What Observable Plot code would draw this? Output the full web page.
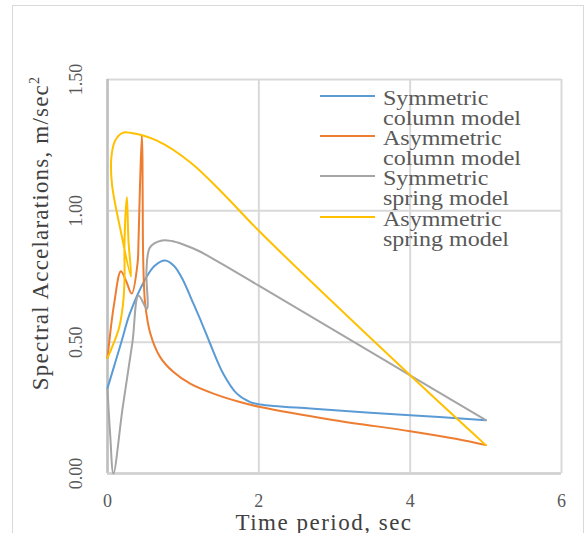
<!DOCTYPE html>
<html>
<head>
<meta charset="utf-8">
<script src="https://cdn.jsdelivr.net/npm/d3@7"></script>
<script src="https://cdn.jsdelivr.net/npm/@observablehq/plot@0.6"></script>
<style>
  body { margin: 0; background: white; }
  #wrap { position: relative; width: 586px; height: 533px; overflow: hidden; font-family: "Liberation Serif", serif; }
  #border { position: absolute; left: 12px; top: 5px; width: 572px; height: 560px; border: 1.5px solid #d9d9d9; box-sizing: border-box; pointer-events: none; }
  .lg-line { position: absolute; height: 2px; width: 55px; left: 320px; }
  .lg-text { position: absolute; left: 383px; font-size: 20px; line-height: 20px; color: #595959; transform: scaleX(1.2); transform-origin: left center; white-space: nowrap; }
  #ytitle { position: absolute; left: 40px; top: 233px; transform: translate(-50%, -50%) rotate(-90deg); font-size: 23px; letter-spacing: 1.2px; color: #404040; white-space: nowrap; line-height: 1; }
  #ytitle sup { font-size: 14px; vertical-align: 9px; line-height: 0; }
  #xtitle { position: absolute; left: 324px; top: 522px; transform: translate(-50%, -50%); font-size: 23px; letter-spacing: 1.5px; color: #404040; white-space: nowrap; line-height: 1; }
</style>
</head>
<body>
<div id="wrap"><div id="border"></div></div>
<script>
// ---- data ----
const seriesNames = ["Symmetric column model", "Asymmetric column model", "Symmetric spring model", "Asymmetric spring model"];
const legendLines = [["Symmetric", "column model"], ["Asymmetric", "column model"], ["Symmetric", "spring model"], ["Asymmetric", "spring model"]];
const colors = ["#5B9BD5", "#ED7D31", "#A5A5A5", "#FFC000"];

const symColT = [0, 0.11, 0.19, 0.29, 0.49, 0.62, 0.76, 0.88, 1.0, 1.115, 1.25, 1.357, 1.53, 1.71, 1.886, 2.02, 2.68, 4.0, 5.0];
const symColA = [0.325, 0.43, 0.507, 0.605, 0.735, 0.79, 0.811, 0.79, 0.735, 0.66, 0.57, 0.494, 0.38, 0.304, 0.272, 0.263, 0.247, 0.222, 0.203];

const asymColT = [0, 0.088, 0.177, 0.25, 0.32, 0.397, 0.41, 0.43, 0.454, 0.462, 0.468, 0.478, 0.498, 0.564, 0.696, 0.872, 1.093, 1.4, 1.75, 2.02, 3.0, 4.0, 4.62, 5.0];
const asymColA = [0.44, 0.647, 0.77, 0.73, 0.685, 0.8, 0.886, 1.1, 1.287, 1.2, 0.886, 0.75, 0.646, 0.535, 0.443, 0.386, 0.342, 0.304, 0.272, 0.253, 0.203, 0.161, 0.131, 0.108];

const symSprT = [0, 0.035, 0.078, 0.2, 0.33, 0.41, 0.52, 0.515, 0.564, 0.72, 0.85, 1.0, 1.2, 1.5, 2.0, 3.5, 5.0];
const symSprA = [0.32, 0.15, 0.0, 0.25, 0.5, 0.678, 0.627, 0.773, 0.862, 0.887, 0.885, 0.872, 0.848, 0.8, 0.715, 0.459, 0.203];

const asymSprT = [0, 0.045, 0.155, 0.21, 0.225, 0.225, 0.256, 0.277, 0.31, 0.17, 0.06, 0.05, 0.1, 0.2, 0.3, 0.653, 1.093, 1.53, 2.0, 4.0, 5.0];
const asymSprA = [0.44, 0.47, 0.557, 0.659, 0.75, 0.887, 1.052, 0.887, 0.75, 0.93, 1.1, 1.2, 1.267, 1.297, 1.297, 1.267, 1.185, 1.065, 0.924, 0.374, 0.108];

const xTicks = [0, 2, 4, 6];
const yTicks = [0, 0.5, 1.0, 1.5];
const xTitle = "Time period, sec";
const yTitleMain = "Spectral Accelarations, m/sec";
const yTitleSup = "2";

// ---- build table ----
const allT = [symColT, asymColT, symSprT, asymSprT];
const allA = [symColA, asymColA, symSprA, asymSprA];
const rows = [];
seriesNames.forEach((s, i) => allT[i].forEach((t, j) => rows.push({series: s, t, a: allA[i][j], order: j})));

const lineMarks = seriesNames.map((s, i) =>
  Plot.line(rows.filter(r => r.series === s), {x: "t", y: "a", stroke: colors[i], strokeWidth: 2, curve: "catmull-rom"})
);

const chart = Plot.plot({
  width: 586,
  height: 533,
  marginLeft: 107,
  marginRight: 25,
  marginTop: 79,
  marginBottom: 60,
  style: {fontFamily: "Liberation Serif", fontSize: "18px", color: "#595959", background: "white", overflow: "visible"},
  x: {domain: [0, 6]},
  y: {domain: [0, 1.5]},
  marks: [
    Plot.gridX(xTicks, {stroke: "#d9d9d9", strokeOpacity: 1, strokeWidth: 2}),
    Plot.gridY(yTicks, {stroke: "#d9d9d9", strokeOpacity: 1, strokeWidth: 2}),
    Plot.ruleX([0], {stroke: "#bfbfbf", strokeWidth: 2.5}),
    Plot.ruleY([0], {stroke: "#d0d0d0", strokeWidth: 2.5}),
    Plot.axisX({ticks: xTicks, tickSize: 0, tickPadding: 21, label: null, tickFormat: d => String(d), fontSize: 18}),
    Plot.axisY({ticks: yTicks, tickSize: 0, tickPadding: 26, tickRotate: -90, label: null, tickFormat: d3.format(".2f"), fontSize: 18}),
    ...lineMarks
  ]
});

const wrap = document.getElementById("wrap");
chart.style.position = "absolute";
chart.style.left = "0px";
chart.style.top = "0px";
wrap.insertBefore(chart, wrap.firstChild);

// axis titles
const yt = document.createElement("div");
yt.id = "ytitle";
yt.textContent = yTitleMain;
const sup = document.createElement("sup");
sup.textContent = yTitleSup;
yt.appendChild(sup);
wrap.appendChild(yt);
const xt = document.createElement("div");
xt.id = "xtitle";
xt.textContent = xTitle;
wrap.appendChild(xt);

// legend (overlaid inside the plot area, as in the reference)
const lineY = [95.7, 135.7, 175.7, 216.5];
legendLines.forEach((lines, i) => {
  const ln = document.createElement("div");
  ln.className = "lg-line";
  ln.style.top = (lineY[i] - 1) + "px";
  ln.style.background = colors[i];
  wrap.appendChild(ln);
  const tx = document.createElement("div");
  tx.className = "lg-text";
  tx.style.top = (88 + 40.2 * i) + "px";
  tx.innerHTML = lines.join("<br>");
  wrap.appendChild(tx);
});
</script>
</body>
</html>
